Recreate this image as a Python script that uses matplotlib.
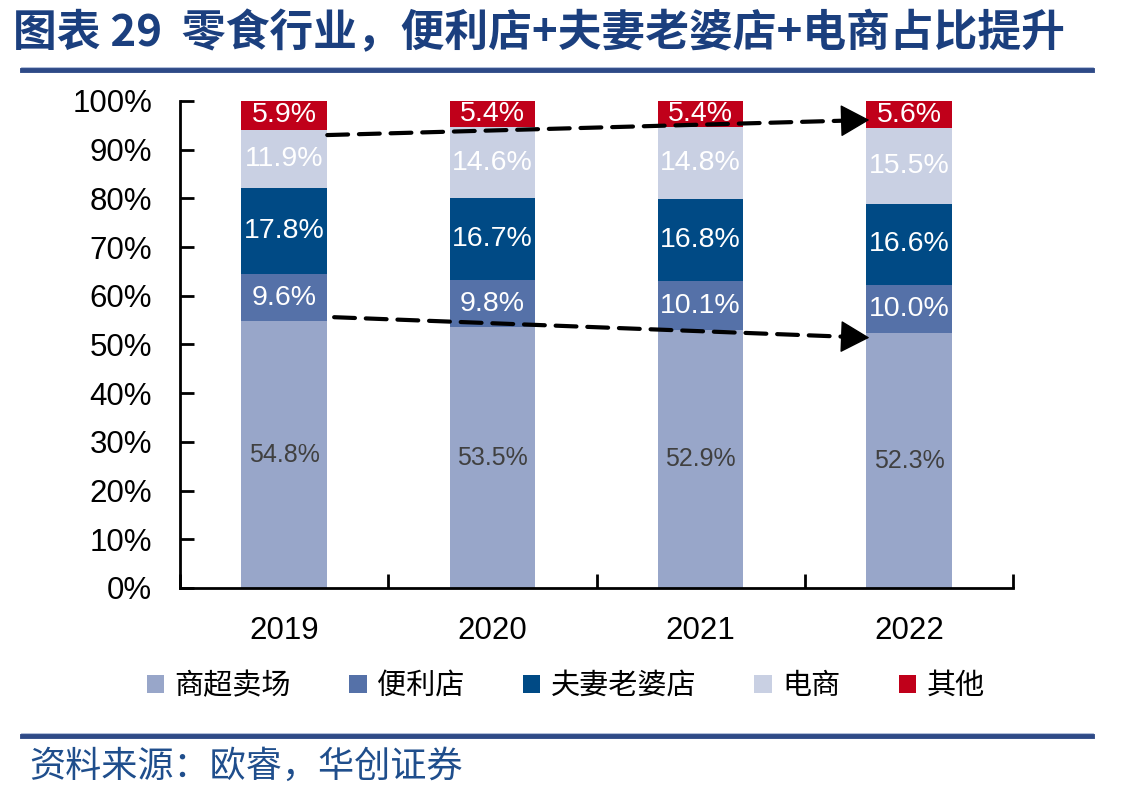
import numpy as np
import matplotlib
import matplotlib.pyplot as plt
from matplotlib.lines import Line2D
from matplotlib.ticker import FixedLocator, NullFormatter
matplotlib.use("Agg")

years = ["2019", "2020", "2021", "2022"]
channels = ["商超卖场", "便利店", "夫妻老婆店", "电商", "其他"]
supermarket = [54.8, 53.5, 52.9, 52.3]
convenience = [9.6, 9.8, 10.1, 10.0]
mom_pop = [17.8, 16.7, 16.8, 16.6]
ecommerce = [11.9, 14.6, 14.8, 15.5]
others = [5.9, 5.4, 5.4, 5.6]

colors = ["#98A6C9", "#5571A8", "#004A85", "#C9D0E3", "#C0001A"]
label_colors = ["#404040", "white", "white", "white", "white"]
label_sizes = [18, 20.5, 20.5, 20.5, 20.5]

plt.rcParams['font.family'] = ['Liberation Sans', 'Noto Sans CJK SC', 'DejaVu Sans']
cjk = ['Noto Sans CJK SC', 'DejaVu Sans']

fig = plt.figure(figsize=(11.43, 7.95), dpi=100)
ax = fig.add_axes([0.1575, 0.2604, 0.7288, 0.6126])

x = np.arange(len(years))
series = [supermarket, convenience, mom_pop, ecommerce, others]
bottom = np.zeros(len(years))
for vals, name, col, lc, ls in zip(series, channels, colors, label_colors, label_sizes):
    vals = np.array(vals)
    ax.bar(x, vals, width=0.41, bottom=bottom, color=col, label=name, zorder=2)
    for xi, b, v in zip(x, bottom, vals):
        ax.text(xi, b + v / 2, f"{v:.1f}%", ha="center", va="center",
                color=lc, fontsize=ls, zorder=3)
    bottom += vals


# trend arrows: dashed shaft plus solid head
def trend_arrow(start, end):
    ax.annotate("", xy=end, xytext=start, zorder=4,
                arrowprops=dict(arrowstyle="-", color="black", lw=3,
                                linestyle=(0, (5, 2.6)), shrinkA=0, shrinkB=10))
    dx = end[0] - start[0]
    dy = end[1] - start[1]
    t = 0.97
    ax.annotate("", xy=end, xytext=(start[0] + dx * t, start[1] + dy * t), zorder=5,
                arrowprops=dict(arrowstyle="-|>,head_length=0.9,head_width=0.5",
                                color="black", lw=1, mutation_scale=21,
                                shrinkA=0, shrinkB=0))


trend_arrow((0.207, 93.0), (2.81, 96.1))
trend_arrow((0.24, 55.6), (2.81, 51.4))

ax.set_xlim(-0.5, 3.5)
ax.set_ylim(0, 100)
ax.set_yticks(np.arange(0, 101, 10))
ax.set_yticklabels([f"{v}%" for v in range(0, 101, 10)])
ax.set_xticks(x)
ax.set_xticklabels(years)
ax.xaxis.set_minor_locator(FixedLocator(np.arange(-0.5, 3.6, 1)))
ax.xaxis.set_minor_formatter(NullFormatter())
ax.tick_params(axis="x", which="major", length=0, labelsize=22.5, pad=20)
ax.tick_params(axis="x", which="minor", direction="in", length=10, width=2)
ax.tick_params(axis="y", direction="in", length=10, width=2, labelsize=22.5, pad=20)
for s in ["top", "right"]:
    ax.spines[s].set_visible(False)
for s in ["left", "bottom"]:
    ax.spines[s].set_linewidth(2)

leg = fig.legend(loc="center", bbox_to_anchor=(0.495, 0.137), ncol=5, frameon=False,
                 prop={"family": cjk, "size": 21}, handlelength=0.6, handleheight=0.6,
                 handletextpad=0.35, columnspacing=2.0)

fig.text(0.011, 0.958, "图表 29  零食行业，便利店+夫妻老婆店+电商占比提升",
         family=cjk, fontsize=31.5, fontweight="bold", color="#1B3F7E", va="center")
fig.add_artist(Line2D([0.019, 0.955], [0.915, 0.915], color="#A9B8D6", lw=2))
fig.add_artist(Line2D([0.019, 0.955], [0.912, 0.912], color="#2E4A87", lw=3.5))
fig.add_artist(Line2D([0.019, 0.955], [0.077, 0.077], color="#A9B8D6", lw=2))
fig.add_artist(Line2D([0.019, 0.955], [0.074, 0.074], color="#2E4A87", lw=3.5))
fig.text(0.026, 0.036, "资料来源：欧睿，华创证券", family=cjk, fontsize=26,
         color="#1F4E8C", va="center")

fig.savefig("out.png", dpi=100)
